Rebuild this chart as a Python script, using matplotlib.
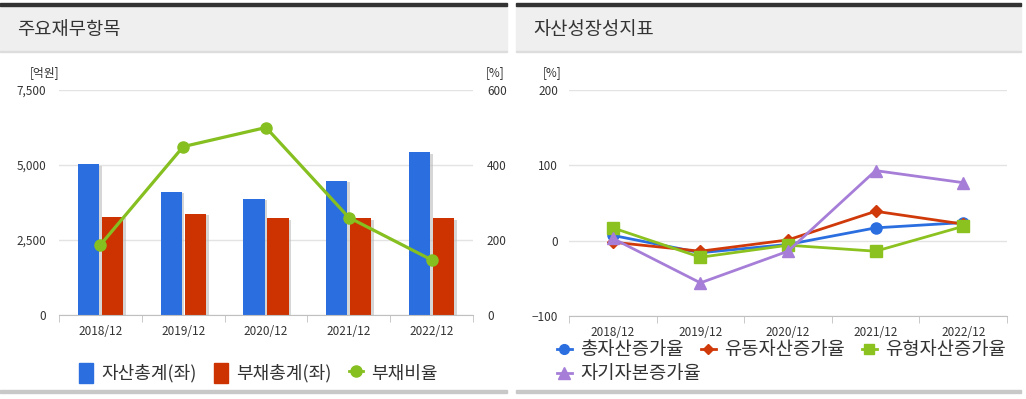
import matplotlib
matplotlib.use("Agg")
import matplotlib.pyplot as plt
import matplotlib.patches as mpatches
import matplotlib.patheffects as pe
from matplotlib.lines import Line2D
import numpy as np

plt.rcParams['font.family'] = ['Noto Sans CJK KR', 'DejaVu Sans']

# data
years = ['2018/12', '2019/12', '2020/12', '2021/12', '2022/12']
total_assets = [5020, 4110, 3870, 4470, 5420]      # 자산총계 (억원)
total_debt = [3280, 3370, 3220, 3220, 3220]        # 부채총계 (억원)
debt_ratio = [187, 449, 500, 260, 147]             # 부채비율 (%)

asset_growth = [7, -16, -5, 17, 24]        # 총자산증가율
current_growth = [-2, -14, 1, 39, 22]      # 유동자산증가율
tangible_growth = [17, -22, -6, -14, 19]   # 유형자산증가율
equity_growth = [3, -56, -14, 93, 77]      # 자기자본증가율

W, H = 1026, 399
fig = plt.figure(figsize=(W / 100, H / 100), dpi=100)

def fx(px):
    return px / W

def fy(py):
    return 1 - py / H

text_c = '#333333'
grid_c = '#e3e3e3'
axis_c = '#c0c0c0'

# panel frames (header band, top bar, bottom line)
for x0, x1, title in [(0, 507, '주요재무항목'), (516, 1021, '자산성장성지표')]:
    fig.patches.append(mpatches.Rectangle((fx(x0), fy(51)), fx(x1 - x0), (51 - 6) / H,
                                          transform=fig.transFigure, color='#efefef', zorder=0))
    fig.patches.append(mpatches.Rectangle((fx(x0), fy(6)), fx(x1 - x0), 3 / H,
                                          transform=fig.transFigure, color='#333333', zorder=1))
    fig.patches.append(mpatches.Rectangle((fx(x0), fy(52)), fx(x1 - x0), 1 / H,
                                          transform=fig.transFigure, color='#dddddd', zorder=1))
    fig.patches.append(mpatches.Rectangle((fx(x0), fy(393)), fx(x1 - x0), 3 / H,
                                          transform=fig.transFigure, color='#c8c8c8', zorder=1))
    fig.text(fx(x0 + 17), fy(29), title, fontsize=13.5, color=text_c, va='center', ha='left')

x = np.arange(len(years))

def style_axes(ax):
    ax.set_xlim(-0.5, len(years) - 0.5)
    for s in ['top', 'right', 'left']:
        ax.spines[s].set_visible(False)
    ax.spines['bottom'].set_color(axis_c)
    ax.set_xticks(x)
    ax.set_xticklabels(years, fontsize=8.5, color=text_c)
    ax.tick_params(axis='x', length=0, pad=7)
    ax.set_xticks(np.arange(-0.5, len(years)), minor=True)
    ax.tick_params(axis='x', which='minor', length=5, color=axis_c, direction='out')
    ax.tick_params(axis='y', length=0, labelsize=8.5, labelcolor=text_c)
    ax.grid(axis='y', color=grid_c, linewidth=1)
    ax.set_axisbelow(True)

# ---- left chart: 주요재무항목
ax1 = fig.add_axes([fx(59), fy(315), fx(414), 225 / H])
style_axes(ax1)
bw = 0.255
shadow = [pe.SimplePatchShadow(offset=(2, -1), shadow_rgbFace='#bbbbbb', alpha=0.6), pe.Normal()]
ax1.bar(x - bw / 2 - 0.018, total_assets, bw, color='#2a6ee0', path_effects=shadow, zorder=2)
ax1.bar(x + bw / 2 + 0.018, total_debt, bw, color='#cc3300', path_effects=shadow, zorder=2)
ax1.set_ylim(0, 7500)
ax1.set_yticks([0, 2500, 5000, 7500])
ax1.set_yticklabels(['0', '2,500', '5,000', '7,500'])
ax1.tick_params(axis='y', pad=9)

ax1r = ax1.twinx()
ax1r.set_ylim(0, 600)
ax1r.set_yticks([0, 200, 400, 600])
for s in ax1r.spines.values():
    s.set_visible(False)
ax1r.tick_params(axis='y', length=0, labelsize=8.5, labelcolor=text_c, pad=10)
ax1r.plot(x, debt_ratio, color='#86bf20', lw=2.3, marker='o', ms=8, zorder=3)

fig.text(fx(30), fy(73), '[억원]', fontsize=8.5, color=text_c, ha='left', va='center')
fig.text(fx(486), fy(73), '[%]', fontsize=8.5, color=text_c, ha='left', va='center')

h1 = [mpatches.Patch(color='#2a6ee0'), mpatches.Patch(color='#cc3300'),
      Line2D([], [], color='#86bf20', marker='o', ms=8, lw=2)]
fig.legend(h1, ['자산총계(좌)', '부채총계(좌)', '부채비율'], loc='center left',
           bbox_to_anchor=(fx(63), fy(373)), ncol=3, frameon=False, fontsize=13,
           handlelength=0.75, handleheight=1.3, handletextpad=0.45, columnspacing=1.0,
           labelcolor=text_c)

# ---- right chart: 자산성장성지표
ax2 = fig.add_axes([fx(569), fy(316), fx(438), 226 / H])
style_axes(ax2)
ax2.set_ylim(-100, 200)
ax2.set_yticks([-100, 0, 100, 200])
ax2.tick_params(axis='y', pad=8)
series = [
    (asset_growth, '#2a6ee0', 'o', '총자산증가율', 8),
    (current_growth, '#d03a0a', 'D', '유동자산증가율', 6),
    (tangible_growth, '#8cc21f', 's', '유형자산증가율', 8),
    (equity_growth, '#a67ed8', '^', '자기자본증가율', 9),
]
handles = []
for vals, c, m, lab, ms in series:
    ax2.plot(x, vals, color=c, lw=2, marker=m, ms=ms, zorder=3)
    handles.append(Line2D([], [], color=c, marker=m, ms=ms - 1, lw=2))
fig.text(fx(543), fy(73), '[%]', fontsize=8.5, color=text_c, ha='left', va='center')

fig.legend(handles[:3], [s[3] for s in series[:3]], loc='center left',
           bbox_to_anchor=(fx(540), fy(350)), ncol=3, frameon=False, fontsize=13.5,
           handlelength=0.8, handletextpad=0.45, columnspacing=0.9, labelcolor=text_c)
fig.legend(handles[3:], [series[3][3]], loc='center left',
           bbox_to_anchor=(fx(540), fy(374)), ncol=1, frameon=False, fontsize=13.5,
           handlelength=0.8, handletextpad=0.45, labelcolor=text_c)

fig.savefig('out.png', dpi=100)
